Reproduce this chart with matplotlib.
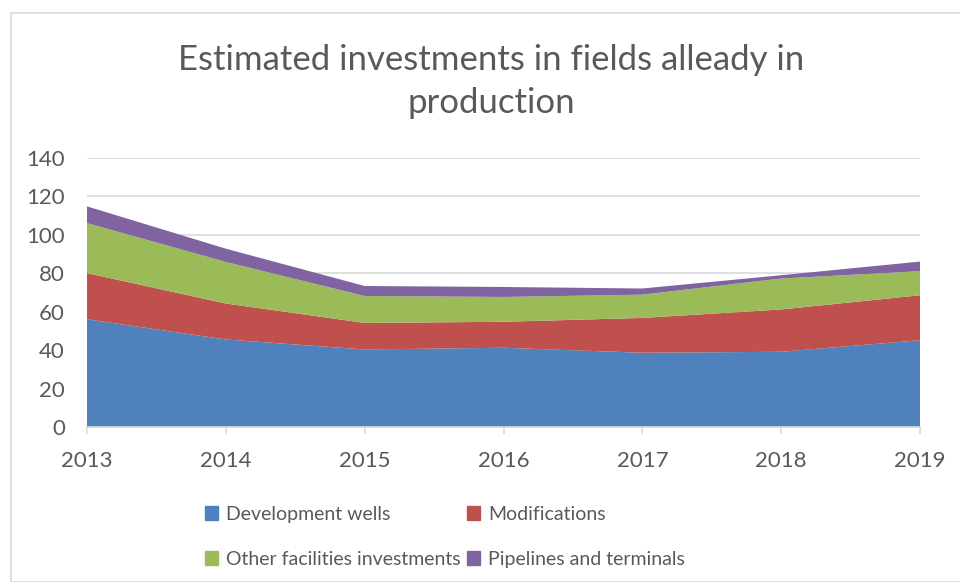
import matplotlib
matplotlib.use("Agg")
import matplotlib.pyplot as plt
from matplotlib.patches import Rectangle, Patch

plt.rcParams["font.family"] = ["Lato", "DejaVu Sans"]

# ----------------------------------------------------------------------
# Data
# ----------------------------------------------------------------------
years = [2013, 2014, 2015, 2016, 2017, 2018, 2019]
development_wells = [56, 45.5, 40.3, 41.2, 38.6, 39.1, 45.1]
modifications = [24, 18.7, 13.8, 13.5, 18.1, 22, 23.4]
other_facilities = [26, 21.6, 14, 12.9, 12.1, 16.1, 12.5]
pipelines = [8.7, 6.9, 5.2, 5.2, 3.2, 1.7, 5.0]

labels = ["Development wells", "Modifications",
          "Other facilities investments", "Pipelines and terminals"]
colors = ["#4F81BD", "#C0504D", "#9BBB59", "#8064A2"]
yticks = [0, 20, 40, 60, 80, 100, 120, 140]

TEXT = "#595959"
GRID = "#D9D9D9"

fig = plt.figure(figsize=(9.6, 5.82), dpi=100)
W, H = 960, 582

# chart border (light grey frame)
fig.patches.append(Rectangle((11 / W, 0), 1.0, 1 - 13 / H,
                             transform=fig.transFigure, fill=False,
                             edgecolor=GRID, lw=1.2))

ax = fig.add_axes([87 / W, (H - 427) / H, (920 - 87) / W, (427 - 157.7) / H])
ax.stackplot(years, development_wells, modifications, other_facilities,
             pipelines, colors=colors, labels=labels, lw=0, zorder=2)

ax.set_xlim(years[0], years[-1])
ax.set_ylim(0, 140)
ax.set_yticks(yticks)
ax.set_xticks(years)
ax.grid(axis="y", color=GRID, lw=1.2, zorder=0)
for s in ["top", "right", "left"]:
    ax.spines[s].set_visible(False)
ax.spines["bottom"].set_color(GRID)
ax.spines["bottom"].set_linewidth(1.2)
ax.spines["bottom"].set_zorder(3)
ax.tick_params(axis="y", length=0, pad=16, labelsize=16, labelcolor=TEXT)
ax.tick_params(axis="x", length=5, width=1.2, color=GRID, pad=12,
               labelsize=16, labelcolor=TEXT)

fig.text(491 / W, 1 - 60 / H, "Estimated investments in fields alleady in",
         ha="center", va="center", fontsize=25, color=TEXT)
fig.text(491 / W, 1 - 103 / H, "production",
         ha="center", va="center", fontsize=25, color=TEXT)

handles = [Patch(color=c) for c in colors]
order = [0, 2, 1, 3]
fig.legend([handles[i] for i in order], [labels[i] for i in order],
           ncol=2, loc="upper left", bbox_to_anchor=(195 / W, 1 - 496 / H),
           frameon=False, fontsize=14, labelcolor=TEXT,
           handlelength=0.7, handleheight=0.7, handletextpad=0.4,
           columnspacing=0.3, labelspacing=1.45, borderpad=0)

fig.savefig("out.png", dpi=100)
